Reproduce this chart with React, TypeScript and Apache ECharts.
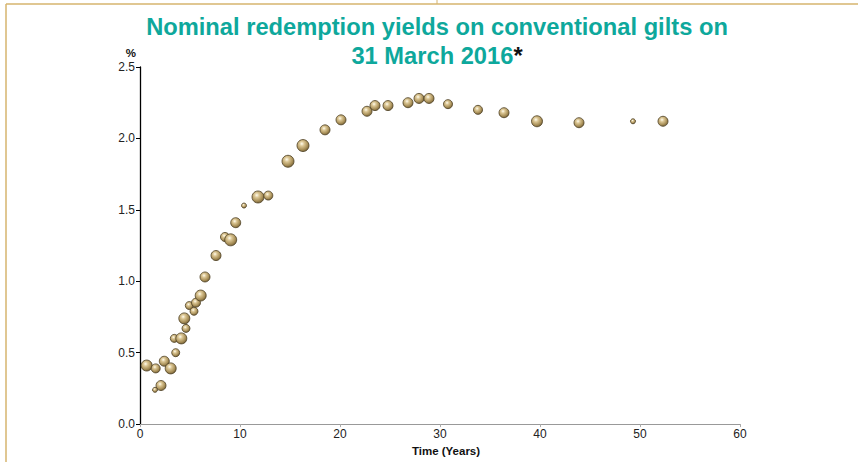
import React, { useEffect, useRef } from "react";
import * as echarts from "echarts";

// Years to maturity of each conventional gilt
const maturityYears = [
  0.67, 1.57, 2.43, 3.07, 2.1, 1.5, 3.57, 3.43, 4.13, 4.6, 4.43, 4.93, 5.4, 5.6,
  6.07, 6.5, 7.6, 8.5, 9.07, 9.57, 10.4, 11.8, 12.83, 14.8, 16.3, 18.5, 20.1,
  22.7, 23.5, 24.8, 26.8, 27.9, 28.9, 30.8, 33.8, 36.4, 39.7, 43.9, 49.3, 52.3,
];
// Nominal redemption yield (%)
const yieldPct = [
  0.41, 0.39, 0.44, 0.39, 0.27, 0.24, 0.5, 0.6, 0.6, 0.67, 0.74, 0.83, 0.79, 0.85,
  0.9, 1.03, 1.18, 1.31, 1.29, 1.41, 1.53, 1.59, 1.6, 1.84, 1.95, 2.06, 2.13,
  2.19, 2.23, 2.23, 2.25, 2.28, 2.28, 2.24, 2.2, 2.18, 2.12, 2.11, 2.12, 2.12,
];
// Relative amount outstanding (bubble size)
const amountOutstanding = [
  11, 9, 10, 11, 10, 5, 8, 8, 11, 8, 11, 8, 8, 9, 11, 10, 10, 9, 12, 10, 5, 12, 9,
  12, 12, 10, 10, 10, 10, 10, 10, 10, 10, 9, 9, 10, 11, 10, 5, 10,
];

const titleLine1 = "Nominal redemption yields on conventional gilts on";
const titleLine2 = "31 March 2016";
const xAxisName = "Time (Years)";
const yAxisName = "%";

const FONT = "'Liberation Sans', Arial, Helvetica, sans-serif";

export default function App() {
  const ref = useRef<HTMLDivElement>(null);

  useEffect(() => {
    document.body.style.margin = "0";
    if (!ref.current) return;
    const chart = echarts.init(ref.current, null, { renderer: "svg" });

    const data = maturityYears.map((x, i) => [x, yieldPct[i], amountOutstanding[i]]);

    const bubbleColor = new echarts.graphic.RadialGradient(0.4, 0.35, 0.7, [
      { offset: 0, color: "#fffcee" },
      { offset: 0.28, color: "#dcc795" },
      { offset: 0.7, color: "#a88f58" },
      { offset: 1, color: "#6f5c33" },
    ]);

    const gold = "#d6b46e";

    chart.setOption({
      animation: false,
      backgroundColor: "#ffffff",
      textStyle: { fontFamily: FONT },
      title: {
        left: 437,
        textAlign: "center",
        top: 12,
        padding: 0,
        text: `{a|${titleLine1}}\n{a|${titleLine2}}{b|*}`,
        textStyle: {
          rich: {
            a: {
              fontFamily: FONT,
              fontSize: 23.7,
              fontWeight: "bold",
              color: "#0ea89c",
              lineHeight: 29,
            },
            b: {
              fontFamily: FONT,
              fontSize: 23.7,
              fontWeight: "bold",
              color: "#111111",
              lineHeight: 29,
            },
          },
        },
      },
      grid: { left: 140, right: 118, top: 67, bottom: 37.5, containLabel: false },
      xAxis: {
        type: "value",
        min: 0,
        max: 60,
        interval: 10,
        name: xAxisName,
        nameLocation: "middle",
        nameGap: 13,
        nameTextStyle: {
          fontFamily: FONT,
          fontWeight: "bold",
          fontSize: 11.5,
          color: "#111",
          padding: [0, 0, 0, 12],
        },
        axisLine: { lineStyle: { color: "#999999", width: 1.2 } },
        axisTick: { show: true, length: 3, lineStyle: { color: "#aaaaaa" } },
        axisLabel: { fontFamily: FONT, fontSize: 12, color: "#222", margin: 4 },
        splitLine: { show: false },
      },
      yAxis: {
        type: "value",
        min: 0,
        max: 2.5,
        interval: 0.5,
        name: yAxisName,
        nameLocation: "end",
        nameGap: 8,
        nameTextStyle: {
          fontFamily: FONT,
          fontWeight: "bold",
          fontSize: 11.5,
          color: "#111",
          align: "right",
          verticalAlign: "bottom",
          padding: [0, 4, 0, 0],
        },
        axisLine: { show: true, lineStyle: { color: "#000000", width: 1.3 } },
        axisTick: { show: true, length: 4, lineStyle: { color: "#000000" } },
        axisLabel: {
          fontFamily: FONT,
          fontSize: 12,
          color: "#222",
          margin: 5,
          formatter: (v: number) => v.toFixed(1),
        },
        splitLine: { show: false },
      },
      series: [
        {
          type: "scatter",
          data,
          symbol: "circle",
          symbolSize: (d: number[]) => d[2],
          itemStyle: {
            color: bubbleColor,
            borderColor: "#4d3f22",
            borderWidth: 0.8,
            opacity: 1,
          },
        },
      ],
      graphic: [
        {
          type: "line",
          silent: true,
          shape: { x1: 6, y1: 4, x2: 858, y2: 4 },
          style: { stroke: gold, lineWidth: 1.5 },
        },
        {
          type: "line",
          silent: true,
          shape: { x1: 6, y1: 4, x2: 6, y2: 462 },
          style: { stroke: gold, lineWidth: 1.5 },
        },
        {
          type: "line",
          silent: true,
          shape: { x1: 437, y1: 0, x2: 437, y2: 4 },
          style: { stroke: gold, lineWidth: 1 },
        },
      ],
    });

    return () => chart.dispose();
  }, []);

  return <div ref={ref} style={{ width: 858, height: 462 }} />;
}
